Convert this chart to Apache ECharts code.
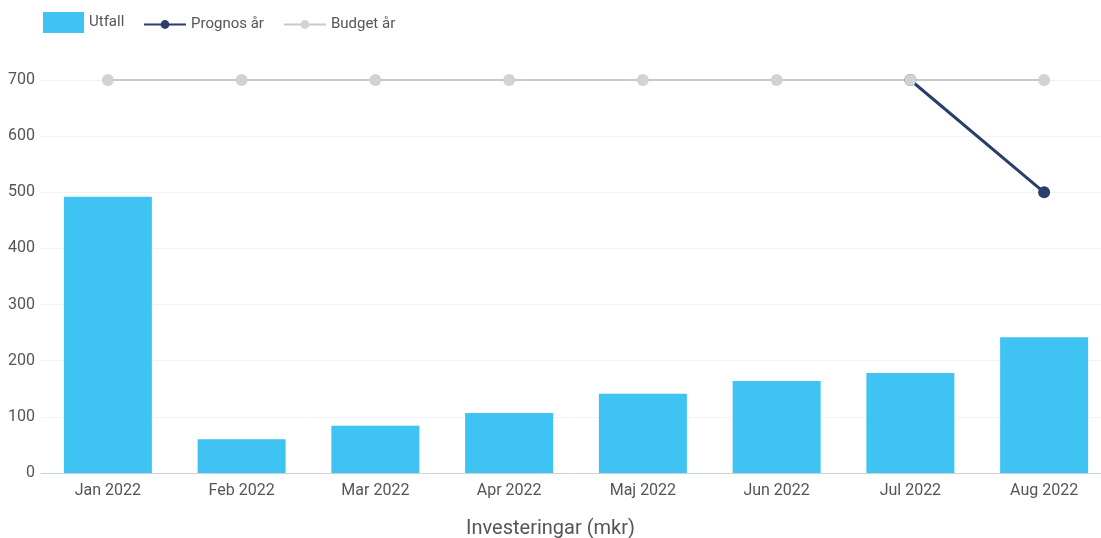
<!DOCTYPE html>
<html>
<head>
<meta charset="utf-8">
<script src="https://cdn.jsdelivr.net/npm/echarts@6/dist/echarts.min.js"></script>
<style>
  html, body { margin: 0; padding: 0; background: #fff; }
  #chart { width: 1101px; height: 538px; }
</style>
</head>
<body>
<div id="chart"></div>
<script>
const months = ["Jan 2022", "Feb 2022", "Mar 2022", "Apr 2022", "Maj 2022", "Jun 2022", "Jul 2022", "Aug 2022"];
const utfall = [492, 60, 84, 107, 141, 164, 178, 242];
const prognos = [null, null, null, null, null, null, 700, 500];
const budget = [700, 700, 700, 700, 700, 700, 700, 700];

const chart = echarts.init(document.getElementById("chart"));
const font = "Roboto, sans-serif";
const legendText = { fontFamily: font, fontSize: 15, color: "#555" };

chart.setOption({
  animation: false,
  textStyle: { fontFamily: font },
  title: {
    text: "Investeringar (mkr)",
    left: "center",
    top: 514,
    textStyle: { fontFamily: font, fontSize: 20, fontWeight: "normal", color: "#555" }
  },
  legend: [
    {
      left: 38,
      top: 7,
      itemWidth: 41,
      itemHeight: 21,
      textStyle: legendText,
      data: [{ name: "Utfall", icon: "rect" }]
    },
    {
      left: 138,
      top: 12,
      itemWidth: 42,
      itemHeight: 11,
      itemGap: 19,
      textStyle: legendText,
      data: ["Prognos år", "Budget år"]
    }
  ],
  grid: { left: 41, top: 80, width: 1070, height: 393, outerBoundsMode: "none", containLabel: false },
  xAxis: {
    type: "category",
    data: months,
    axisTick: { show: false },
    axisLine: { lineStyle: { color: "#c9d2d6" } },
    axisLabel: { color: "#555", fontSize: 16, margin: 10 }
  },
  yAxis: {
    type: "value",
    min: 0,
    max: 700,
    interval: 100,
    axisLabel: { color: "#555", fontSize: 16, margin: 6 },
    splitLine: { lineStyle: { color: "#f1f4f5" } }
  },
  series: [
    {
      name: "Utfall",
      type: "bar",
      data: utfall,
      barWidth: 88,
      itemStyle: { color: "#3fc3f2" }
    },
    {
      name: "Prognos år",
      type: "line",
      data: prognos,
      symbol: "circle",
      symbolSize: 12,
      lineStyle: { color: "#2b3d6b", width: 3 },
      itemStyle: { color: "#2b3d6b" }
    },
    {
      name: "Budget år",
      type: "line",
      data: budget,
      symbol: "circle",
      symbolSize: 12,
      lineStyle: { color: "#c4cbce", width: 2 },
      itemStyle: { color: "#cfd3d5" }
    }
  ]
});
</script>
</body>
</html>
